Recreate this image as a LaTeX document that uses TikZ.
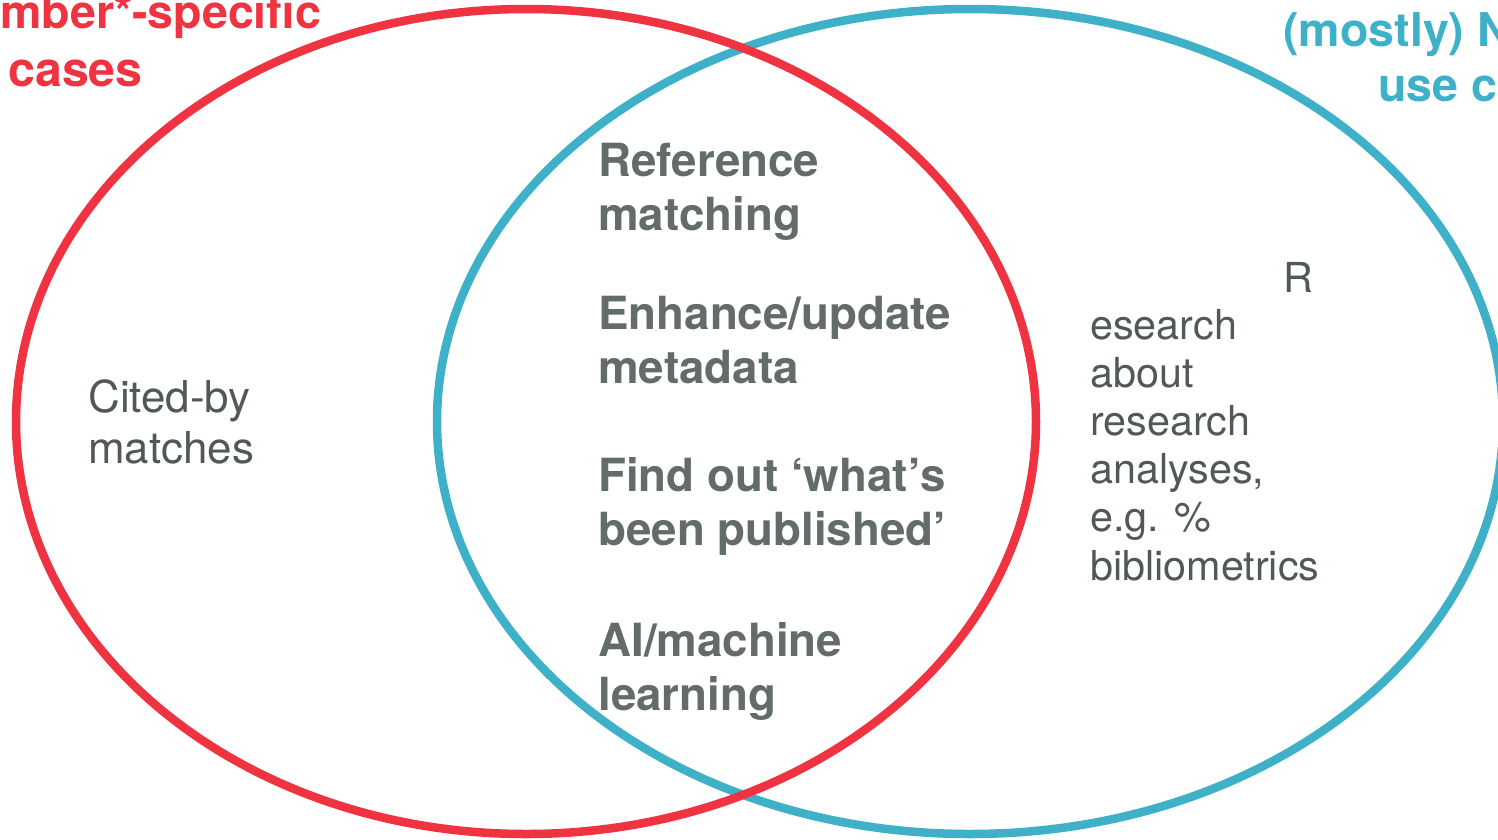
\documentclass[tikz,border=0pt]{standalone}
\usepackage{fontspec}
\setmainfont{TeX Gyre Heros}
\definecolor{vennred}{HTML}{EF3340}
\definecolor{vennblue}{HTML}{3EB1C8}
\definecolor{boldgrey}{HTML}{646B6B}
\definecolor{textgrey}{HTML}{505858}

\begin{document}
\begin{tikzpicture}[x=0.2mm, y=-0.2mm,
   ring/.style={line width=1.7mm},
   title/.style={anchor=base west, inner sep=0, align=left, font=\fontsize{26.5}{32}\selectfont\bfseries},
   usecase/.style={anchor=base west, inner sep=0, align=left, text=boldgrey, font=\fontsize{26}{30.7}\selectfont\bfseries},
   plain/.style={anchor=base west, inner sep=0, align=left, text=textgrey, font=\fontsize{23.5}{27.4}\selectfont}]
\useasboundingbox (0,0) rectangle (1498,839);
\clip (0,0) rectangle (1498,839);

% the two sets
\draw[ring, vennblue] (970,421.5) ellipse [x radius=533, y radius=412.5];
\draw[ring, vennred] (526,421.5) ellipse [x radius=510, y radius=412.5];

% set titles (base = last line)
\node[title, text=vennred] (redtitle) at (0,28) {mber*-specific};
\node[title, text=vennred, font=\fontsize{27.5}{32}\selectfont\bfseries] (redtitleb) at (8,86) {cases};
\node[title, text=vennblue] (bluetitle) at (1283,46) {(mostly) N};
\node[title, text=vennblue] (bluetitleb) at (1378,101) {use c};

% left only
\node[plain, font=\fontsize{25}{29}\selectfont] (citedby) at (88,463) {Cited-by\\matches};

% overlap
\node[usecase] (refmatch) at (598,230) {Reference\\matching};
\node[usecase] (enhance) at (598,383) {Enhance/update\\metadata};
\node[usecase] (findout) at (598,545) {Find out ‘what’s\\been published’};
\node[usecase] (machine) at (598,710) {AI/machine\\learning};

% right only
\node[plain] (rletter) at (1283,292) {R};
\node[plain] (research) at (1090,580)
   {esearch\\about\\research\\analyses,\\e.g. \%\\bibliometrics};

\end{tikzpicture}
\end{document}
